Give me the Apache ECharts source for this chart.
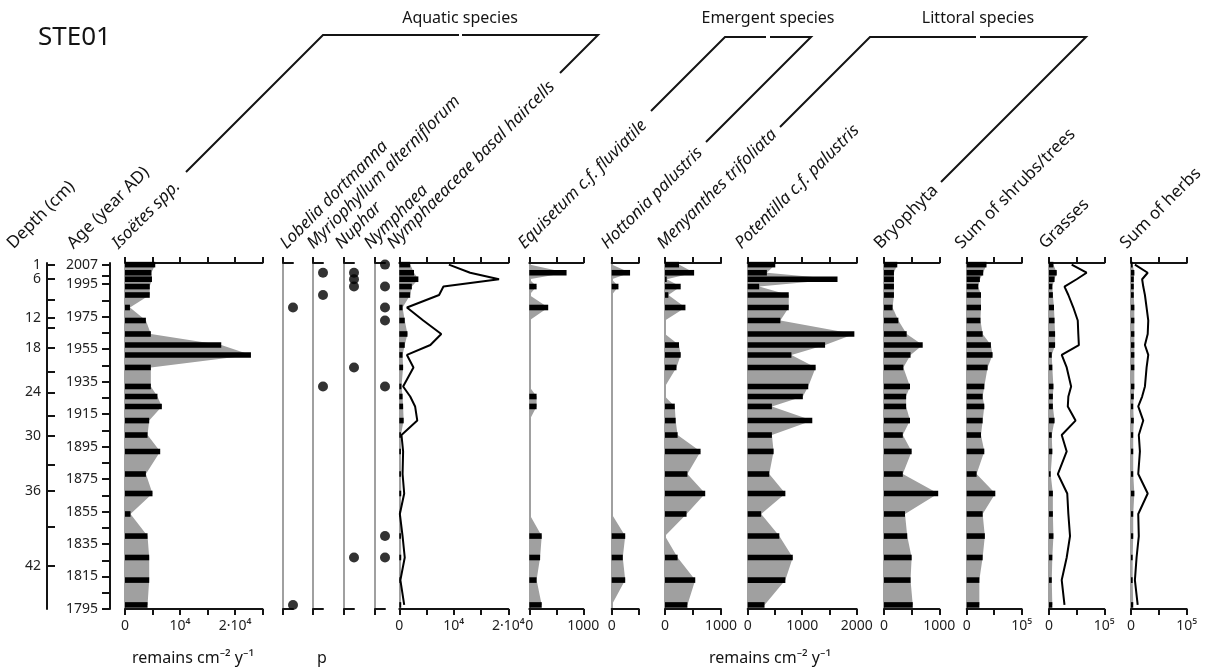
<!DOCTYPE html>
<html><head><meta charset="utf-8">
<script src="https://cdn.jsdelivr.net/npm/echarts@6/dist/echarts.min.js"></script>
<style>html,body{margin:0;padding:0;background:#fff}#c{width:1215px;height:668px}</style>
</head><body><div id="c"></div>
<script>
// ---- data ----
const sampleAges = [2007, 2002, 1998, 1993.5, 1988.3, 1980.6, 1972.6, 1964.3, 1957.5, 1951.4, 1943.7, 1932.0, 1925.8, 1919.7, 1911.0, 1902.1, 1892.0, 1878.1, 1866.1, 1853.5, 1839.9, 1826.7, 1812.8, 1797.5];
const ageTickLabels = [2007, 1995, 1975, 1955, 1935, 1915, 1895, 1875, 1855, 1835, 1815, 1795];
const ageMinorTicks = [2000, 1985, 1965, 1945, 1925, 1905, 1885, 1865, 1845, 1825, 1805];
const depthLabels = [1, 6, 12, 18, 24, 30, 36, 42];
const depthLabelAges = [2006.8, 1998.0, 1974.0, 1955.9, 1928.4, 1901.7, 1867.8, 1821.5];
const depthMinorAges = [1985.2, 1968.4, 1941.1, 1914.0, 1883.6, 1845.7];

const isoetes = [5500, 4800, 4900, 4500, 4500, 900, 3800, 4700, 17500, 22900, 4700, 4700, 5900, 6700, 4400, 4100, 6400, 3800, 5000, 1000, 4100, 4400, 4400, 4100];
const lobelia = [0,0,0,0,0,1,0,0,0,0,0,0,0,0,0,0,0,0,0,0,0,0,0,1];
const myriophyllum = [0,1,0,0,1,0,0,0,0,0,0,1,0,0,0,0,0,0,0,0,0,0,0,0];
const nuphar = [0,1,1,1,0,0,0,0,0,0,1,0,0,0,0,0,0,0,0,0,0,1,0,0];
const nymphaea = [1,0,0,1,0,1,1,0,0,0,0,1,0,0,0,0,0,0,0,0,1,1,0,0];
const nymphaeaceaeBars = [2000, 2700, 3500, 2300, 2000, 600, 1000, 1500, 1000, 600, 700, 400, 600, 700, 800, 300, 300, 300, 350, 100, 300, 350, 100, 350];
const nymphaeaceaeLine = [9100, 13000, 18300, 8100, 7300, 1400, 4400, 7700, 5700, 1400, 2600, 700, 2000, 2900, 3300, 400, 700, 600, 900, 100, 600, 1000, 200, 900];
const equisetum = [0, 690, 0, 135, 0, 350, 0, 0, 0, 0, 0, 0, 135, 135, 0, 0, 0, 0, 0, 0, 230, 200, 135, 230];
const hottonia = [0, 340, 0, 125, 0, 0, 0, 0, 0, 0, 0, 0, 0, 0, 0, 0, 0, 0, 0, 0, 250, 205, 250, 0];
const menyanthes = [250, 520, 30, 280, 60, 365, 0, 0, 250, 280, 205, 0, 0, 175, 190, 225, 635, 400, 718, 385, 0, 225, 540, 400];
const potentilla = [506, 352, 1648, 210, 753, 753, 599, 1957, 1420, 802, 1247, 1111, 1012, 444, 1185, 444, 475, 395, 691, 247, 580, 827, 691, 309];
const bryophyta = [240, 180, 180, 180, 180, 155, 260, 410, 700, 480, 350, 470, 400, 400, 470, 340, 500, 340, 980, 380, 420, 500, 480, 520];
const shrubsTrees = [36000, 30000, 24000, 21000, 26000, 26000, 25000, 29000, 44000, 47000, 38000, 32000, 29000, 32000, 29000, 26000, 32000, 18000, 52000, 29000, 33000, 29000, 23000, 23000];
const grassesBars = [8000, 14000, 10000, 6000, 7000, 9000, 10000, 11000, 11000, 5000, 6000, 8000, 7000, 7000, 10000, 5000, 6000, 3000, 7000, 7000, 8000, 6000, 5000, 6000];
const grassesLine = [41000, 68000, 50000, 28000, 35000, 44000, 52000, 53000, 54000, 23000, 32000, 40000, 35000, 34000, 48000, 23000, 32000, 16000, 33000, 35000, 38000, 32000, 23000, 28000];
const herbsBars = [3000, 6000, 5000, 5000, 5000, 6000, 6000, 6000, 6000, 6000, 6000, 6000, 5000, 4000, 5000, 4000, 4000, 4000, 6000, 4000, 4000, 3000, 3000, 4000];
const herbsLine = [7000, 30000, 20000, 22000, 25000, 28000, 31000, 30000, 25000, 31000, 28000, 25000, 20000, 13000, 22000, 14000, 16000, 13000, 30000, 13000, 14000, 10000, 7000, 12000];

// ---- layout ----
const panels = [
  {kind:'bars', vals:isoetes, x0:125, w:137.5, max:25000, interval:5000, labels:[0,10000,20000]},
  {kind:'presence', vals:lobelia, x0:283, w:10},
  {kind:'presence', vals:myriophyllum, x0:313, w:10},
  {kind:'presence', vals:nuphar, x0:344, w:10},
  {kind:'presence', vals:nymphaea, x0:375, w:10},
  {kind:'bars', vals:nymphaeaceaeBars, line:nymphaeaceaeLine, x0:399.3, w:109, max:20000, interval:5000, labels:[0,10000,20000]},
  {kind:'bars', vals:equisetum, x0:529.3, w:54, max:1000, interval:500, labels:[0,1000]},
  {kind:'bars', vals:hottonia, x0:611.7, w:27, max:500, interval:500, labels:[0]},
  {kind:'bars', vals:menyanthes, x0:665, w:56, max:1000, interval:500, labels:[0,1000]},
  {kind:'bars', vals:potentilla, x0:747.7, w:109, max:2000, interval:500, labels:[0,1000,2000]},
  {kind:'bars', vals:bryophyta, x0:884, w:55.3, max:1000, interval:500, labels:[0,1000]},
  {kind:'bars', vals:shrubsTrees, x0:966.7, w:55, max:100000, interval:50000, labels:[0,100000]},
  {kind:'bars', vals:grassesBars, line:grassesLine, x0:1049, w:55.3, max:100000, interval:50000, labels:[0,100000]},
  {kind:'bars', vals:herbsBars, line:herbsLine, x0:1131, w:55.7, max:100000, interval:50000, labels:[0,100000]}
];

const FONT = '"Noto Sans", sans-serif';
const TOP = 263, BOTTOM = 59, YMIN = 1795, YMAX = 2008;
const INK = '#141414', GREY = '#a0a0a0';

function fmtTick(v){
  if (v === 10000) return '10\u2074';
  if (v === 20000) return '2\u00b710\u2074';
  if (v === 100000) return '10\u2075';
  return String(v);
}

const grids = [], xAxes = [], yAxes = [], series = [];
panels.forEach((p, i) => {
  const isP = p.kind === 'presence';
  grids.push({left:p.x0, width:p.w, top:TOP, bottom:BOTTOM});
  const base = {
    gridIndex:i, type:'value', min:0, max:isP ? 1 : p.max, interval:isP ? 1 : p.interval,
    splitLine:{show:false},
    axisLine:{show:true, onZero:false, lineStyle:{color:INK, width:2}},
    axisTick:{show:true, inside:false, length:6, lineStyle:{color:INK, width:2}}
  };
  if (isP) base.axisTick = Object.assign({}, base.axisTick, {customValues:[0]});
  xAxes.push(Object.assign({}, base, {position:'bottom',
    axisLabel: isP ? {show:false} : {show:true, customValues:p.labels, formatter:fmtTick, margin:10, fontSize:14, fontFamily:FONT, color:'#222'}}));
  xAxes.push(Object.assign({}, base, {position:'top', axisLabel:{show:false}}));
  yAxes.push({gridIndex:i, type:'value', min:YMIN, max:YMAX, position:'left',
    axisLine:{show:true, onZero:false, lineStyle:{color:GREY, width:2}},
    axisTick:{show:false}, axisLabel:{show:false}, splitLine:{show:false}});

  if (isP) {
    series.push({type:'scatter', xAxisIndex:2*i, yAxisIndex:i, clip:false, silent:true,
      symbol:'circle', symbolSize:10, itemStyle:{color:'#000'}, z:4,
      data: p.vals.map((v,k) => v ? [1, sampleAges[k]] : null).filter(Boolean)});
    return;
  }
  const vals = p.vals;
  series.push({type:'custom', xAxisIndex:2*i, yAxisIndex:i, silent:true, z:1, clip:false,
    data: vals.map((v,k) => [v, sampleAges[k]]),
    renderItem: (params, api) => {
      if (params.dataIndex !== 0) return null;
      const pts = [api.coord([0, sampleAges[0]])];
      vals.forEach((v,k) => pts.push(api.coord([v, sampleAges[k]])));
      pts.push(api.coord([0, sampleAges[sampleAges.length-1]]));
      return {type:'polygon', shape:{points:pts}, style:{fill:GREY}};
    }});
  series.push({type:'custom', xAxisIndex:2*i, yAxisIndex:i, silent:true, z:2, clip:false,
    data: vals.map((v,k) => [v, sampleAges[k]]),
    renderItem: (params, api) => {
      const v = api.value(0), a = api.value(1);
      if (!v) return null;
      const p0 = api.coord([0, a]), p1 = api.coord([v, a]);
      return {type:'rect', shape:{x:p0[0], y:p0[1]-2.8, width:p1[0]-p0[0], height:5.6}, style:{fill:'#000'}};
    }});
  if (p.line) {
    series.push({type:'line', xAxisIndex:2*i, yAxisIndex:i, silent:true, z:3, symbol:'none', showSymbol:false,
      lineStyle:{color:'#000', width:2}, data: p.line.map((v,k) => [v, sampleAges[k]])});
  }
});

// age axis and depth axis (on the first grid)
yAxes.push({gridIndex:0, type:'value', min:YMIN, max:YMAX, position:'left', offset:15,
  axisLine:{show:true, onZero:false, lineStyle:{color:INK, width:2}},
  axisTick:{show:true, inside:false, length:8, customValues:ageTickLabels.concat(ageMinorTicks), lineStyle:{color:INK, width:2}},
  axisLabel:{show:true, customValues:ageTickLabels, margin:12, fontSize:14, fontFamily:FONT, color:'#222',
    formatter: v => String(Math.round(v))},
  splitLine:{show:false}});
yAxes.push({gridIndex:0, type:'value', min:YMIN, max:YMAX, position:'left', offset:78,
  axisLine:{show:true, onZero:false, lineStyle:{color:INK, width:2}},
  axisTick:{show:true, inside:true, length:8, customValues:depthLabelAges.concat(depthMinorAges), lineStyle:{color:INK, width:2}},
  axisLabel:{show:true, customValues:depthLabelAges, margin:6, fontSize:14, fontFamily:FONT, color:'#222',
    formatter: v => {
      let best = 0;
      depthLabelAges.forEach((a,k) => { if (Math.abs(a-v) < Math.abs(depthLabelAges[best]-v)) best = k; });
      return String(depthLabels[best]);
    }},
  splitLine:{show:false}});

// ---- header texts ----
const colLabels = [
  {t:'Depth (cm)', x:16, it:false},
  {t:'Age (year AD)', x:76, it:false},
  {t:'Isoëtes spp.', x:121, it:true},
  {t:'Lobelia dortmanna', x:289, it:true},
  {t:'Myriophyllum alterniflorum', x:316, it:true},
  {t:'Nuphar', x:344, it:true},
  {t:'Nymphaea', x:373, it:true},
  {t:'Nymphaeaceae basal haircells', x:396, it:true},
  {t:'Equisetum c.f. fluviatile', x:527, it:true},
  {t:'Hottonia palustris', x:610, it:true},
  {t:'Menyanthes trifoliata', x:666, it:true},
  {t:'Potentilla c.f. palustris', x:744, it:true},
  {t:'Bryophyta', x:883, it:false},
  {t:'Sum of shrubs/trees', x:964, it:false},
  {t:'Grasses', x:1048, it:false},
  {t:'Sum of herbs', x:1129, it:false}
];
const graphic = [];
colLabels.forEach(l => graphic.push({type:'text', x:l.x, y:252, rotation:Math.PI/4, silent:true,
  style:{text:l.t, fontFamily:FONT, fontSize:17, fontStyle:l.it ? 'italic' : 'normal', fill:INK, align:'left', verticalAlign:'bottom'}}));
graphic.push({type:'text', x:38, y:38, silent:true, style:{text:'STE01', fontFamily:FONT, fontSize:26, fill:INK, align:'left', verticalAlign:'middle'}});
[['Aquatic species',460],['Emergent species',768],['Littoral species',978]].forEach(g =>
  graphic.push({type:'text', x:g[1], y:18, silent:true, style:{text:g[0], fontFamily:FONT, fontSize:16, fill:INK, align:'center', verticalAlign:'middle'}}));
const brackets = [
  [[186,172],[323,35],[459,35]], [[462,35],[598,35],[560,73]],
  [[651,111],[725,37],[766,37]], [[770,37],[811,37],[706,142]],
  [[780,127],[870,37],[976,37]], [[980,37],[1086,37],[941,182]]
];
brackets.forEach(b => graphic.push({type:'polyline', silent:true, shape:{points:b}, style:{stroke:INK, lineWidth:2, fill:null}}));
[['remains cm\u207b\u00b2 y\u207b\u00b9',193],['p',322],['remains cm\u207b\u00b2 y\u207b\u00b9',770]].forEach(g =>
  graphic.push({type:'text', x:g[1], y:658, silent:true, style:{text:g[0], fontFamily:FONT, fontSize:16, fill:INK, align:'center', verticalAlign:'middle'}}));

const chart = echarts.init(document.getElementById('c'), null, {renderer:'canvas', width:1215, height:668});
chart.setOption({animation:false, backgroundColor:'#fff', grid:grids, xAxis:xAxes, yAxis:yAxes, series:series, graphic:graphic});
</script></body></html>
